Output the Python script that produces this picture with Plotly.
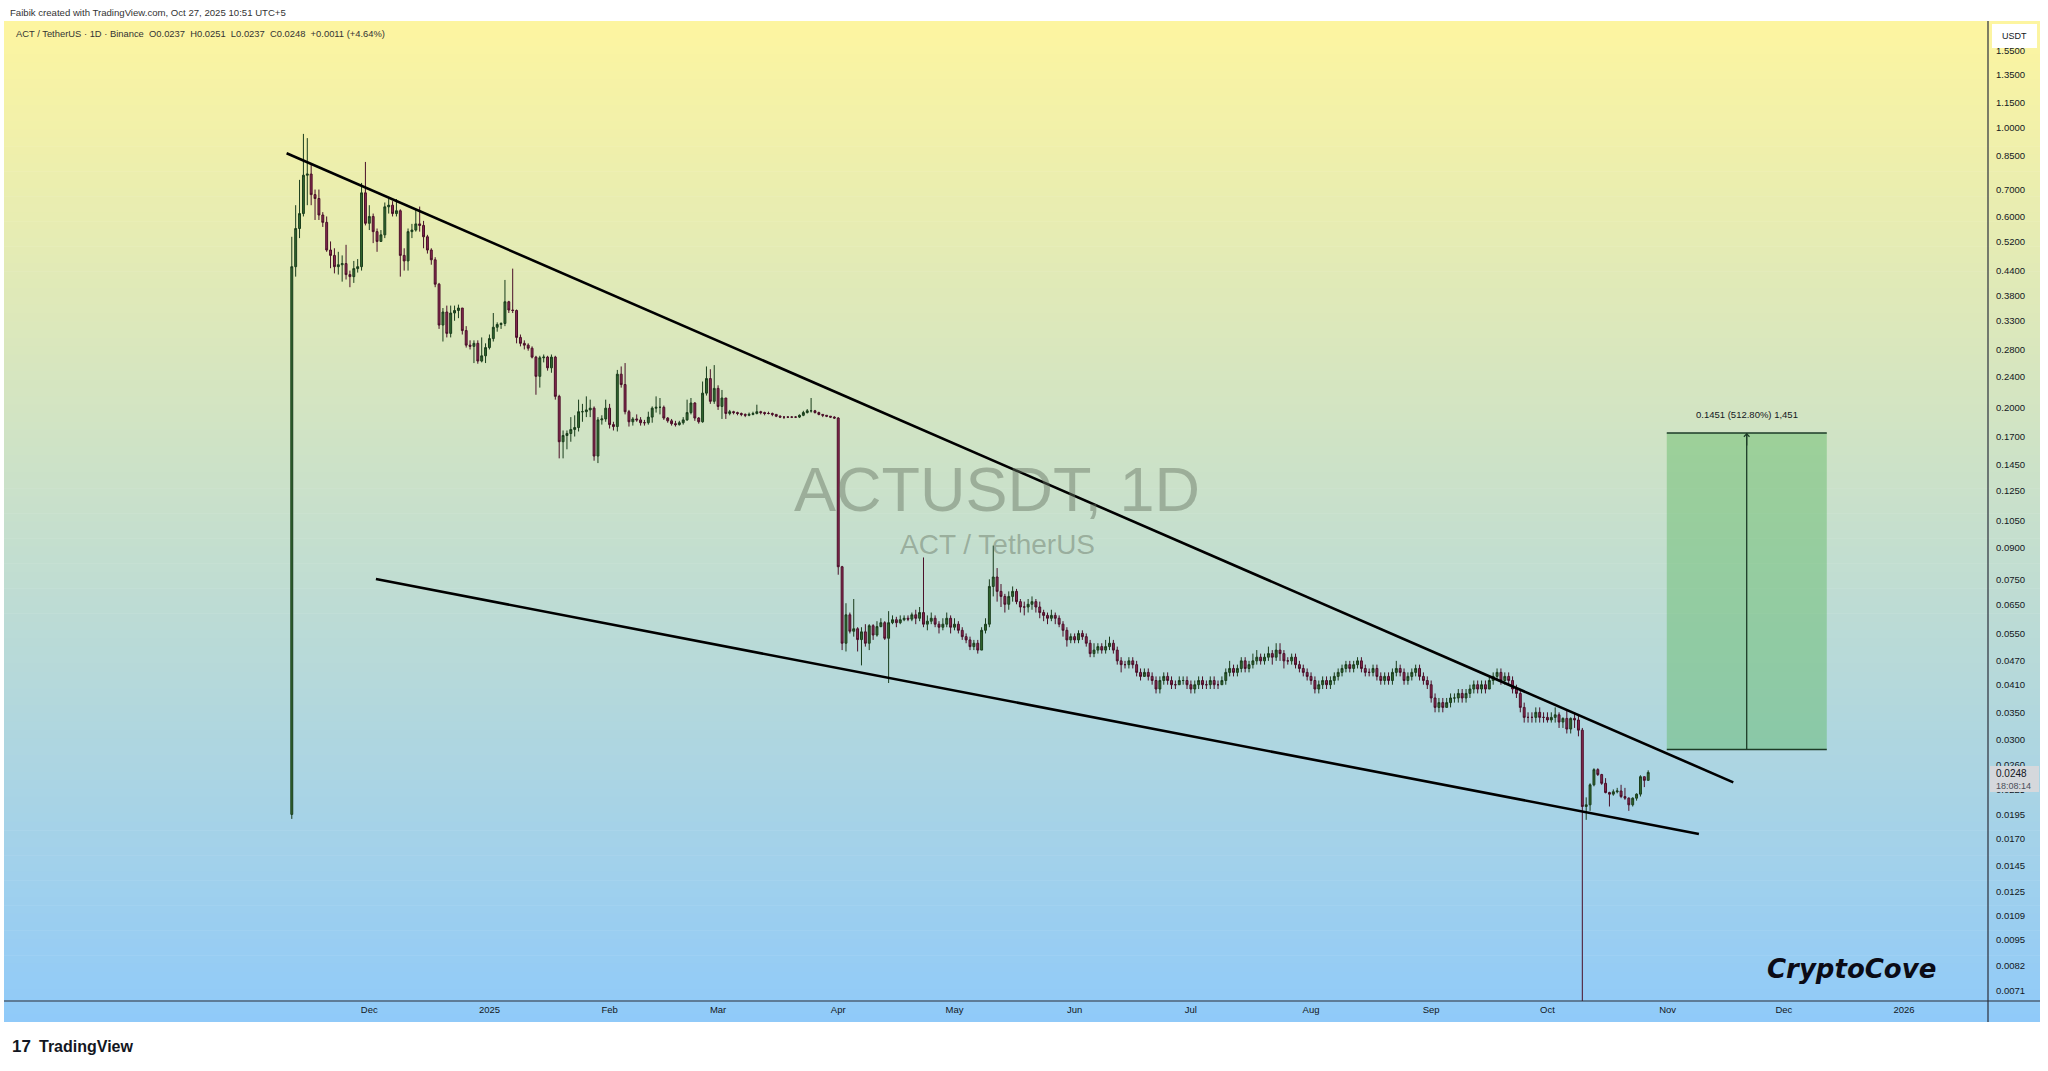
import math
import pandas as pd
import plotly.graph_objects as go

# ---------------- data (daily candles ACT/USDT, Binance) ----------------
START_DATE = "2024-11-11"
FIRST_OPEN = 0.0195

CLOSE = [
    # Nov 2024 (11-30)
    0.45, 0.56, 0.61, 0.76, 0.765, 0.68, 0.665, 0.605, 0.58, 0.495, 0.48, 0.45, 0.455, 0.458, 0.43, 0.425, 0.445, 0.45, 0.687, 0.577,
    # Dec
    0.60, 0.55, 0.52, 0.54, 0.634, 0.64, 0.61, 0.62, 0.48, 0.465, 0.55, 0.555, 0.575, 0.57, 0.534, 0.495, 0.468, 0.407, 0.322, 0.347,
    0.307, 0.345, 0.35, 0.355, 0.312, 0.287, 0.285, 0.29, 0.262, 0.27, 0.283,
    # Jan 2025
    0.298, 0.318, 0.323, 0.325, 0.368, 0.351, 0.35, 0.30, 0.29, 0.287, 0.282, 0.268, 0.24, 0.267, 0.268, 0.252, 0.268, 0.214, 0.165, 0.171,
    0.173, 0.177, 0.179, 0.196, 0.196, 0.198, 0.200, 0.152, 0.187, 0.188, 0.20,
    # Feb
    0.182, 0.18, 0.243, 0.229, 0.196, 0.185, 0.188, 0.187, 0.184, 0.184, 0.19, 0.200, 0.201, 0.201, 0.189, 0.186, 0.183, 0.182, 0.184, 0.187,
    0.195, 0.206, 0.189, 0.185, 0.218, 0.237, 0.208, 0.224,
    # Mar
    0.202, 0.212, 0.194, 0.196, 0.195, 0.194, 0.193, 0.192, 0.193, 0.194, 0.196, 0.195, 0.194, 0.194, 0.193, 0.191, 0.19, 0.19, 0.19, 0.19,
    0.19, 0.192, 0.195, 0.197, 0.197, 0.195, 0.193, 0.192, 0.191, 0.19, 0.189,
    # Apr
    0.0806, 0.052, 0.0612, 0.0557, 0.0565, 0.0531, 0.0555, 0.052, 0.0575, 0.0545, 0.0572, 0.0585, 0.0535, 0.0585, 0.0595, 0.0585, 0.0595, 0.060, 0.0597, 0.0612,
    0.060, 0.062, 0.058, 0.059, 0.060, 0.058, 0.057, 0.058, 0.060, 0.057,
    # May
    0.058, 0.056, 0.054, 0.053, 0.051, 0.052, 0.050, 0.056, 0.058, 0.072, 0.076, 0.070, 0.068, 0.065, 0.068, 0.070, 0.066, 0.064, 0.064, 0.065,
    0.066, 0.064, 0.062, 0.061, 0.060, 0.061, 0.060, 0.058, 0.056, 0.053, 0.054,
    # Jun
    0.053, 0.055, 0.054, 0.052, 0.049, 0.050, 0.051, 0.050, 0.051, 0.052, 0.050, 0.047, 0.046, 0.046, 0.047, 0.046, 0.044, 0.043, 0.044, 0.043,
    0.042, 0.040, 0.042, 0.043, 0.042, 0.041, 0.041, 0.042, 0.042, 0.041,
    # Jul
    0.040, 0.041, 0.042, 0.041, 0.041, 0.042, 0.041, 0.041, 0.042, 0.044, 0.045, 0.044, 0.045, 0.047, 0.045, 0.046, 0.047, 0.048, 0.047, 0.048,
    0.049, 0.048, 0.050, 0.049, 0.047, 0.047, 0.048, 0.046, 0.045, 0.044, 0.043,
    # Aug
    0.042, 0.040, 0.041, 0.042, 0.041, 0.042, 0.043, 0.044, 0.045, 0.046, 0.045, 0.046, 0.047, 0.045, 0.044, 0.044, 0.045, 0.043, 0.042, 0.043,
    0.042, 0.044, 0.045, 0.044, 0.042, 0.043, 0.044, 0.045, 0.043, 0.042, 0.041,
    # Sep
    0.038, 0.036, 0.037, 0.036, 0.037, 0.038, 0.038, 0.039, 0.038, 0.039, 0.040, 0.041, 0.040, 0.041, 0.040, 0.042, 0.043, 0.044, 0.042, 0.043,
    0.042, 0.040, 0.039, 0.036, 0.034, 0.034, 0.034, 0.035, 0.034, 0.034,
    # Oct
    0.0335, 0.034, 0.0345, 0.0331, 0.0338, 0.0318, 0.0338, 0.0335, 0.0316, 0.0204, 0.0206, 0.0231, 0.0252, 0.0245, 0.0233, 0.0221, 0.0219, 0.0222, 0.0223, 0.0216,
    0.0214, 0.0206, 0.0214, 0.0219, 0.0242, 0.0237, 0.0248,
]

HIGH = [
    0.534, 0.64, 0.74, 0.963, 0.94, 0.815, 0.70, 0.70, 0.615, 0.60, 0.52, 0.50, 0.49, 0.48, 0.51, 0.44, 0.465, 0.47, 0.727, 0.82,
    0.64, 0.61, 0.56, 0.555, 0.65, 0.665, 0.655, 0.663, 0.625, 0.50, 0.56, 0.575, 0.623, 0.635, 0.585, 0.54, 0.50, 0.475, 0.41, 0.355,
    0.36, 0.36, 0.36, 0.362, 0.355, 0.32, 0.295, 0.295, 0.295, 0.30, 0.29,
    0.305, 0.345, 0.327, 0.327, 0.417, 0.37, 0.445, 0.352, 0.305, 0.295, 0.29, 0.285, 0.27, 0.27, 0.272, 0.27, 0.272, 0.27, 0.216, 0.176,
    0.176, 0.19, 0.192, 0.21, 0.205, 0.214, 0.21, 0.202, 0.19, 0.192, 0.21,
    0.205, 0.185, 0.249, 0.254, 0.259, 0.198, 0.19, 0.193, 0.19, 0.187, 0.196, 0.202, 0.214, 0.212, 0.203, 0.19, 0.188, 0.186, 0.186, 0.19,
    0.21, 0.212, 0.207, 0.19, 0.233, 0.254, 0.25, 0.256,
    0.228, 0.222, 0.212, 0.198, 0.197, 0.196, 0.195, 0.194, 0.195, 0.196, 0.204, 0.197, 0.196, 0.196, 0.195, 0.193, 0.192, 0.191, 0.191, 0.191,
    0.191, 0.193, 0.197, 0.199, 0.212, 0.198, 0.196, 0.193, 0.192, 0.191, 0.191,
    0.19, 0.081, 0.0654, 0.062, 0.067, 0.057, 0.057, 0.058, 0.058, 0.058, 0.059, 0.060, 0.059, 0.0625, 0.061, 0.0605, 0.061, 0.061, 0.061, 0.062,
    0.063, 0.064, 0.085, 0.061, 0.062, 0.061, 0.059, 0.060, 0.062, 0.061,
    0.060, 0.059, 0.057, 0.055, 0.054, 0.053, 0.053, 0.057, 0.060, 0.075, 0.091, 0.080, 0.073, 0.069, 0.070, 0.072, 0.071, 0.067, 0.066, 0.067,
    0.068, 0.067, 0.066, 0.063, 0.062, 0.063, 0.062, 0.061, 0.059, 0.057, 0.055,
    0.055, 0.056, 0.056, 0.055, 0.053, 0.052, 0.052, 0.052, 0.053, 0.054, 0.053, 0.051, 0.048, 0.047, 0.048, 0.048, 0.047, 0.045, 0.045, 0.045,
    0.044, 0.043, 0.043, 0.044, 0.044, 0.043, 0.042, 0.043, 0.043, 0.043,
    0.042, 0.042, 0.043, 0.043, 0.042, 0.043, 0.043, 0.042, 0.043, 0.045, 0.047, 0.046, 0.046, 0.048, 0.048, 0.047, 0.049, 0.050, 0.049, 0.049,
    0.051, 0.050, 0.052, 0.052, 0.050, 0.048, 0.049, 0.049, 0.047, 0.046, 0.045,
    0.044, 0.043, 0.042, 0.043, 0.043, 0.043, 0.044, 0.045, 0.046, 0.047, 0.047, 0.047, 0.048, 0.048, 0.046, 0.045, 0.046, 0.046, 0.044, 0.044,
    0.044, 0.045, 0.047, 0.046, 0.045, 0.044, 0.045, 0.046, 0.046, 0.044, 0.043,
    0.042, 0.039, 0.038, 0.038, 0.038, 0.039, 0.039, 0.040, 0.040, 0.040, 0.041, 0.042, 0.042, 0.042, 0.042, 0.043, 0.044, 0.045, 0.045, 0.044,
    0.044, 0.043, 0.041, 0.040, 0.037, 0.035, 0.035, 0.036, 0.036, 0.035,
    0.035, 0.035, 0.036, 0.035, 0.034, 0.0356, 0.034, 0.035, 0.0345, 0.032, 0.0215, 0.0233, 0.0254, 0.0254, 0.0246, 0.0240, 0.0222, 0.0225, 0.0227, 0.0231,
    0.0227, 0.0215, 0.0215, 0.0220, 0.0244, 0.0242, 0.0251,
]

LOW = [
    0.0190, 0.425, 0.53, 0.60, 0.64, 0.64, 0.588, 0.588, 0.565, 0.49, 0.446, 0.433, 0.43, 0.413, 0.418, 0.40, 0.41, 0.435, 0.44, 0.57,
    0.555, 0.515, 0.49, 0.52, 0.53, 0.61, 0.60, 0.60, 0.425, 0.44, 0.44, 0.53, 0.55, 0.55, 0.50, 0.485, 0.455, 0.40, 0.315, 0.293,
    0.30, 0.30, 0.33, 0.335, 0.305, 0.283, 0.28, 0.259, 0.258, 0.26, 0.259,
    0.28, 0.293, 0.31, 0.315, 0.32, 0.345, 0.345, 0.29, 0.285, 0.28, 0.278, 0.266, 0.216, 0.225, 0.26, 0.248, 0.245, 0.21, 0.150, 0.150,
    0.158, 0.165, 0.17, 0.175, 0.185, 0.19, 0.19, 0.148, 0.146, 0.182, 0.185,
    0.178, 0.176, 0.175, 0.225, 0.193, 0.18, 0.181, 0.185, 0.181, 0.181, 0.182, 0.184, 0.195, 0.193, 0.187, 0.184, 0.181, 0.18, 0.181, 0.182,
    0.186, 0.193, 0.186, 0.183, 0.184, 0.215, 0.205, 0.205,
    0.198, 0.188, 0.188, 0.192, 0.193, 0.192, 0.191, 0.19, 0.191, 0.192, 0.193, 0.193, 0.192, 0.193, 0.191, 0.19, 0.189, 0.188, 0.189, 0.189,
    0.189, 0.189, 0.191, 0.194, 0.195, 0.194, 0.192, 0.19, 0.19, 0.189, 0.188,
    0.077, 0.050, 0.0496, 0.055, 0.054, 0.0496, 0.0458, 0.051, 0.050, 0.053, 0.054, 0.057, 0.053, 0.0414, 0.058, 0.057, 0.058, 0.059, 0.059, 0.059,
    0.058, 0.059, 0.057, 0.056, 0.058, 0.057, 0.055, 0.056, 0.057, 0.055,
    0.056, 0.055, 0.053, 0.052, 0.050, 0.050, 0.049, 0.050, 0.055, 0.057, 0.068, 0.066, 0.064, 0.062, 0.063, 0.066, 0.065, 0.062, 0.061, 0.062,
    0.063, 0.062, 0.060, 0.059, 0.058, 0.059, 0.058, 0.057, 0.054, 0.051, 0.052,
    0.052, 0.052, 0.053, 0.051, 0.048, 0.048, 0.049, 0.049, 0.049, 0.050, 0.049, 0.046, 0.044, 0.045, 0.045, 0.045, 0.043, 0.042, 0.043, 0.042,
    0.041, 0.039, 0.039, 0.041, 0.041, 0.040, 0.040, 0.041, 0.041, 0.040,
    0.039, 0.039, 0.040, 0.040, 0.040, 0.040, 0.040, 0.040, 0.041, 0.041, 0.043, 0.043, 0.043, 0.044, 0.044, 0.044, 0.045, 0.046, 0.046, 0.046,
    0.047, 0.046, 0.047, 0.047, 0.045, 0.046, 0.046, 0.045, 0.044, 0.043, 0.042,
    0.041, 0.039, 0.039, 0.040, 0.040, 0.040, 0.041, 0.042, 0.043, 0.044, 0.044, 0.044, 0.045, 0.044, 0.043, 0.043, 0.043, 0.042, 0.041, 0.041,
    0.041, 0.041, 0.043, 0.043, 0.041, 0.041, 0.042, 0.043, 0.042, 0.041, 0.040,
    0.037, 0.035, 0.035, 0.035, 0.036, 0.036, 0.037, 0.037, 0.037, 0.037, 0.038, 0.039, 0.039, 0.039, 0.039, 0.040, 0.041, 0.042, 0.041, 0.041,
    0.041, 0.039, 0.038, 0.035, 0.033, 0.033, 0.033, 0.033, 0.033, 0.033,
    0.033, 0.033, 0.033, 0.032, 0.032, 0.031, 0.031, 0.032, 0.0305, 0.0050, 0.0189, 0.0199, 0.0229, 0.0243, 0.0231, 0.0220, 0.0204, 0.0217, 0.0220, 0.0214,
    0.0212, 0.0199, 0.0204, 0.0211, 0.0216, 0.0228, 0.0237,
]

# price-axis tick labels
PRICE_TICKS = [1.55, 1.35, 1.15, 1.0, 0.85, 0.70, 0.60, 0.52, 0.44, 0.38, 0.33, 0.28, 0.24, 0.20, 0.17, 0.145, 0.125,
               0.105, 0.090, 0.075, 0.065, 0.055, 0.047, 0.041, 0.035, 0.030, 0.026, 0.0225, 0.0195, 0.017, 0.0145,
               0.0125, 0.0109, 0.0095, 0.0082, 0.0071]
# time-axis labels
MONTH_TICKS = ["2024-12-01", "2025-01-01", "2025-02-01", "2025-03-01", "2025-04-01", "2025-05-01", "2025-06-01",
               "2025-07-01", "2025-08-01", "2025-09-01", "2025-10-01", "2025-11-01", "2025-12-01", "2026-01-01"]
MONTH_LABELS = ["Dec", "2025", "Feb", "Mar", "Apr", "May", "Jun", "Jul", "Aug", "Sep", "Oct", "Nov", "Dec", "2026"]

# drawings
UPPER_LINE_X = ["2024-11-09 16:00", "2025-11-17 23:00"]
UPPER_LINE_Y = [0.8616, 0.02343]
LOWER_LINE_X = ["2024-12-02 17:00", "2025-11-09 02:00"]
LOWER_LINE_Y = [0.0751, 0.01743]
TARGET_X = ["2025-10-31 19:00", "2025-12-12 02:00"]
TARGET_MID_X = "2025-11-21 10:00"
TARGET_BOTTOM = 0.0283
TARGET_TOP = 0.1734
TARGET_LABEL = "0.1451 (512.80%) 1,451"
LAST_PRICE = "0.0248"
COUNTDOWN = "18:08:14"

# ---------------- geometry helpers (pixels -> paper) ----------------
W, H = 2048, 1071
PL, PR, PT, PB = 4, 1988, 21, 1001


def px(X):
    return (X - PL) / (PR - PL)


def py(Y):
    return (PB - Y) / (PB - PT)


dates = pd.date_range(START_DATE, periods=len(CLOSE), freq="D")
OPEN = [FIRST_OPEN] + CLOSE[:-1]
HI = [max(h, o, c) for h, o, c in zip(HIGH, OPEN, CLOSE)]
LO = [min(l, o, c) for l, o, c in zip(LOW, OPEN, CLOSE)]

fig = go.Figure()

fig.add_trace(go.Candlestick(
    x=dates, open=OPEN, high=HI, low=LO, close=CLOSE,
    increasing=dict(line=dict(color="#1a3d1c", width=1), fillcolor="#32692f"),
    decreasing=dict(line=dict(color="#4a0f28", width=1), fillcolor="#8a2a52"),
    whiskerwidth=0, showlegend=False, hoverinfo="skip",
))

for lx, ly in ((UPPER_LINE_X, UPPER_LINE_Y), (LOWER_LINE_X, LOWER_LINE_Y)):
    fig.add_trace(go.Scatter(x=lx, y=ly, mode="lines", line=dict(color="#000000", width=2.6),
                             showlegend=False, hoverinfo="skip"))

# target box edges
for yv in (TARGET_TOP, TARGET_BOTTOM):
    fig.add_trace(go.Scatter(x=TARGET_X, y=[yv, yv], mode="lines", line=dict(color="#1d3b27", width=1.5),
                             showlegend=False, hoverinfo="skip"))
fig.add_trace(go.Scatter(x=[TARGET_MID_X, TARGET_MID_X], y=[TARGET_BOTTOM, TARGET_TOP], mode="lines",
                         line=dict(color="#1d3b27", width=1.3), showlegend=False, hoverinfo="skip"))

shapes = []
# background gradient
TOP_RGB = (253, 245, 160)
BOT_RGB = (144, 202, 249)
N = 120
G0, G1 = 21, 1022
for k in range(N):
    y0 = G0 + (G1 - G0) * k / N
    y1 = G0 + (G1 - G0) * (k + 1) / N + 0.6
    t = (k + 0.5) / N
    c = tuple(round(a + (b - a) * t) for a, b in zip(TOP_RGB, BOT_RGB))
    shapes.append(dict(type="rect", xref="paper", yref="paper", x0=px(4), x1=px(2040),
                       y0=py(min(y1, G1)), y1=py(y0), fillcolor="rgb(%d,%d,%d)" % c,
                       line=dict(width=0), layer="below"))
# target rectangle
shapes.append(dict(type="rect", xref="x", yref="y", x0=TARGET_X[0], x1=TARGET_X[1], y0=TARGET_BOTTOM,
                   y1=TARGET_TOP, fillcolor="rgba(96,185,100,0.45)", line=dict(width=0), layer="below"))
# axis separators
shapes.append(dict(type="line", xref="paper", yref="paper", x0=px(1988), x1=px(1988), y0=py(1022), y1=py(21),
                   line=dict(color="#2a2e39", width=1.2), layer="above"))
shapes.append(dict(type="line", xref="paper", yref="paper", x0=px(4), x1=px(2040), y0=py(1001), y1=py(1001),
                   line=dict(color="#2a2e39", width=1.2), layer="above"))
# USDT box
shapes.append(dict(type="rect", xref="paper", yref="paper", x0=px(1992), x1=px(2037), y0=py(48), y1=py(24),
                   fillcolor="#ffffff", line=dict(width=0), layer="above"))
# last price box
shapes.append(dict(type="rect", xref="paper", yref="paper", x0=px(1990), x1=px(2039), y0=py(792), y1=py(766),
                   fillcolor="#d5d8dc", line=dict(width=0), layer="above"))

FONT = "Liberation Sans, Arial"
annotations = [
    dict(text="Faibik created with TradingView.com, Oct 27, 2025 10:51 UTC+5", xref="paper", yref="paper",
         x=px(8), y=py(12), xanchor="left", yanchor="middle", showarrow=False,
         font=dict(family=FONT, size=9.6, color="#333333")),
    dict(text="ACT / TetherUS · 1D · Binance  O0.0237  H0.0251  L0.0237  C0.0248  +0.0011 (+4.64%)",
         xref="paper", yref="paper", x=px(14), y=py(33), xanchor="left", yanchor="middle", showarrow=False,
         font=dict(family=FONT, size=9.4, color="#333333")),
    dict(text="ACTUSDT, 1D", xref="paper", yref="paper", x=px(997), y=py(489), xanchor="center",
         yanchor="middle", showarrow=False,
         font=dict(family=FONT, size=63, color="rgba(100,114,96,0.45)")),
    dict(text="ACT / TetherUS", xref="paper", yref="paper", x=px(997), y=py(544), xanchor="center",
         yanchor="middle", showarrow=False,
         font=dict(family=FONT, size=28, color="rgba(100,114,96,0.45)")),
    dict(text="<b><i>CryptoCove</i></b>", xref="paper", yref="paper", x=px(1851), y=py(969), xanchor="center",
         yanchor="middle", showarrow=False, font=dict(family="DejaVu Sans", size=26, color="#0b0b16")),
    dict(text="<b>17</b>", xref="paper", yref="paper", x=px(10), y=py(1046), xanchor="left", yanchor="middle",
         showarrow=False, font=dict(family=FONT, size=17, color="#131722")),
    dict(text="<b>TradingView</b>", xref="paper", yref="paper", x=px(37), y=py(1046), xanchor="left",
         yanchor="middle", showarrow=False, font=dict(family=FONT, size=16, color="#131722")),
    dict(text="USDT", xref="paper", yref="paper", x=px(2014), y=py(36), xanchor="center", yanchor="middle",
         showarrow=False, font=dict(family=FONT, size=9, color="#131722")),
    dict(text=LAST_PRICE, xref="paper", yref="paper", x=px(1994), y=py(773), xanchor="left", yanchor="middle",
         showarrow=False, font=dict(family=FONT, size=10, color="#131722")),
    dict(text=COUNTDOWN, xref="paper", yref="paper", x=px(1994), y=py(786), xanchor="left", yanchor="middle",
         showarrow=False, font=dict(family=FONT, size=9, color="#4a4f5a")),
    dict(text=TARGET_LABEL, x=TARGET_MID_X, y=math.log10(TARGET_TOP), xref="x", yref="y", yshift=19,
         showarrow=False, xanchor="center", yanchor="middle",
         font=dict(family=FONT, size=9.5, color="#131722")),
    dict(x=TARGET_MID_X, y=math.log10(TARGET_TOP), ax=0, ay=14, xref="x", yref="y", axref="pixel", ayref="pixel",
         showarrow=True, arrowhead=4, arrowsize=0.9, arrowwidth=1.2, arrowcolor="#1d3b27", text=""),
]

fig.update_layout(
    width=W, height=H,
    margin=dict(l=PL, r=W - PR, t=PT, b=H - PB, pad=0),
    paper_bgcolor="#ffffff", plot_bgcolor="rgba(0,0,0,0)",
    shapes=shapes, annotations=annotations, showlegend=False,
    xaxis=dict(type="date", range=["2024-08-28 17:46", "2026-01-22 16:19"], rangeslider=dict(visible=False),
               tickvals=MONTH_TICKS, ticktext=MONTH_LABELS, ticks="", showgrid=False, zeroline=False,
               showline=False, tickfont=dict(family=FONT, size=9.5, color="#131722"),
               ticklabelstandoff=1, fixedrange=True),
    yaxis=dict(type="log", side="right", range=[-2.1744, 0.2646], tickvals=PRICE_TICKS,
               ticktext=["%.4f" % v for v in PRICE_TICKS], ticks="", showgrid=False, zeroline=False,
               showline=False, tickfont=dict(family=FONT, size=9.5, color="#131722"),
               ticklabelstandoff=7, fixedrange=True),
)

fig.write_html("out.html", config={"displayModeBar": False},
               post_script="document.body.style.margin='0';document.body.style.overflow='hidden';")
